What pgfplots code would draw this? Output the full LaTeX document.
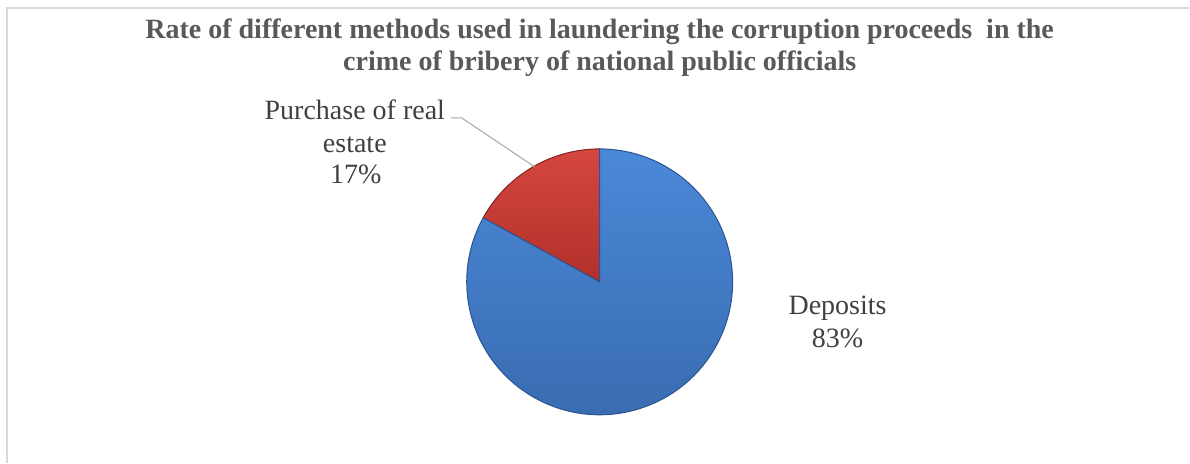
\documentclass[border=0pt]{standalone}
\usepackage{fontspec}
\setmainfont{Liberation Serif}
\usepackage{pgfplots}
\usepackage{pgfplotstable}
\pgfplotsset{compat=1.18}
\definecolor{titlegray}{HTML}{595959}
\definecolor{labelgray}{HTML}{404040}
\definecolor{framegray}{HTML}{D9D9D9}
\definecolor{leader}{HTML}{A6A6A6}
\definecolor{blueTop}{HTML}{4A88D8}
\definecolor{blueBot}{HTML}{386AAE}
\definecolor{blueEdge}{HTML}{2B5590}
\definecolor{redTop}{HTML}{D4473F}
\definecolor{redBot}{HTML}{B2302B}
\definecolor{redEdge}{HTML}{88221E}
% shares of the pie (percent): Purchase of real estate, Deposits
\pgfplotstableread{
share
17
83
}\piedata
\begin{document}
\begin{tikzpicture}
\pgfplotstablegetelem{0}{share}\of\piedata \let\sA\pgfplotsretval
\pgfplotstablegetelem{1}{share}\of\piedata \let\sB\pgfplotsretval
\pgfmathsetmacro{\aStart}{90}
\pgfmathsetmacro{\aMid}{90+3.6*\sA}
\pgfmathsetmacro{\aEnd}{90+3.6*(\sA+\sB)}
\begin{axis}[x=1pt,y=1pt,xmin=0,xmax=1190,ymin=0,ymax=463,
  scale only axis,hide axis,clip=false]
% page extent
\path (axis cs:0,0) rectangle (axis cs:1190,463);
% frame
\draw[framegray,line width=1.3pt] (axis cs:7,0) -- (axis cs:7,455) -- (axis cs:1190,455);
% title
\node[anchor=base,text=titlegray,font=\fontsize{28}{32}\selectfont\bfseries] at (axis cs:600,424) {Rate of different methods used in laundering the corruption proceeds \ in the};
\node[anchor=base,text=titlegray,font=\fontsize{28}{32}\selectfont\bfseries] at (axis cs:600,392) {crime of bribery of national public officials};
% wedges
\path[draw=redEdge,line width=1pt,top color=redTop,bottom color=redBot]
  (axis cs:600,181) -- ++(\aStart:133pt) arc[start angle=\aStart,end angle=\aMid,radius=133pt] -- cycle;
\path[draw=blueEdge,line width=1pt,top color=blueTop,bottom color=blueBot]
  (axis cs:600,181) -- ++(\aMid:133pt) arc[start angle=\aMid,end angle=\aEnd,radius=133pt] -- cycle;
% leader line
\draw[leader,line width=1pt] (axis cs:451,345) -- (axis cs:462,345) -- (axis cs:535,296);
% labels
\node[anchor=base,text=labelgray,font=\fontsize{28}{32}\selectfont] at (axis cs:355,343) {Purchase of real};
\node[anchor=base,text=labelgray,font=\fontsize{28}{32}\selectfont] at (axis cs:355,310) {estate};
\node[anchor=base,text=labelgray,font=\fontsize{28}{32}\selectfont] at (axis cs:356,279) {\sA\%};
\node[anchor=base,text=labelgray,font=\fontsize{28}{32}\selectfont] at (axis cs:838,148) {Deposits};
\node[anchor=base,text=labelgray,font=\fontsize{28}{32}\selectfont] at (axis cs:838,115) {\sB\%};
\end{axis}
\end{tikzpicture}
\end{document}
